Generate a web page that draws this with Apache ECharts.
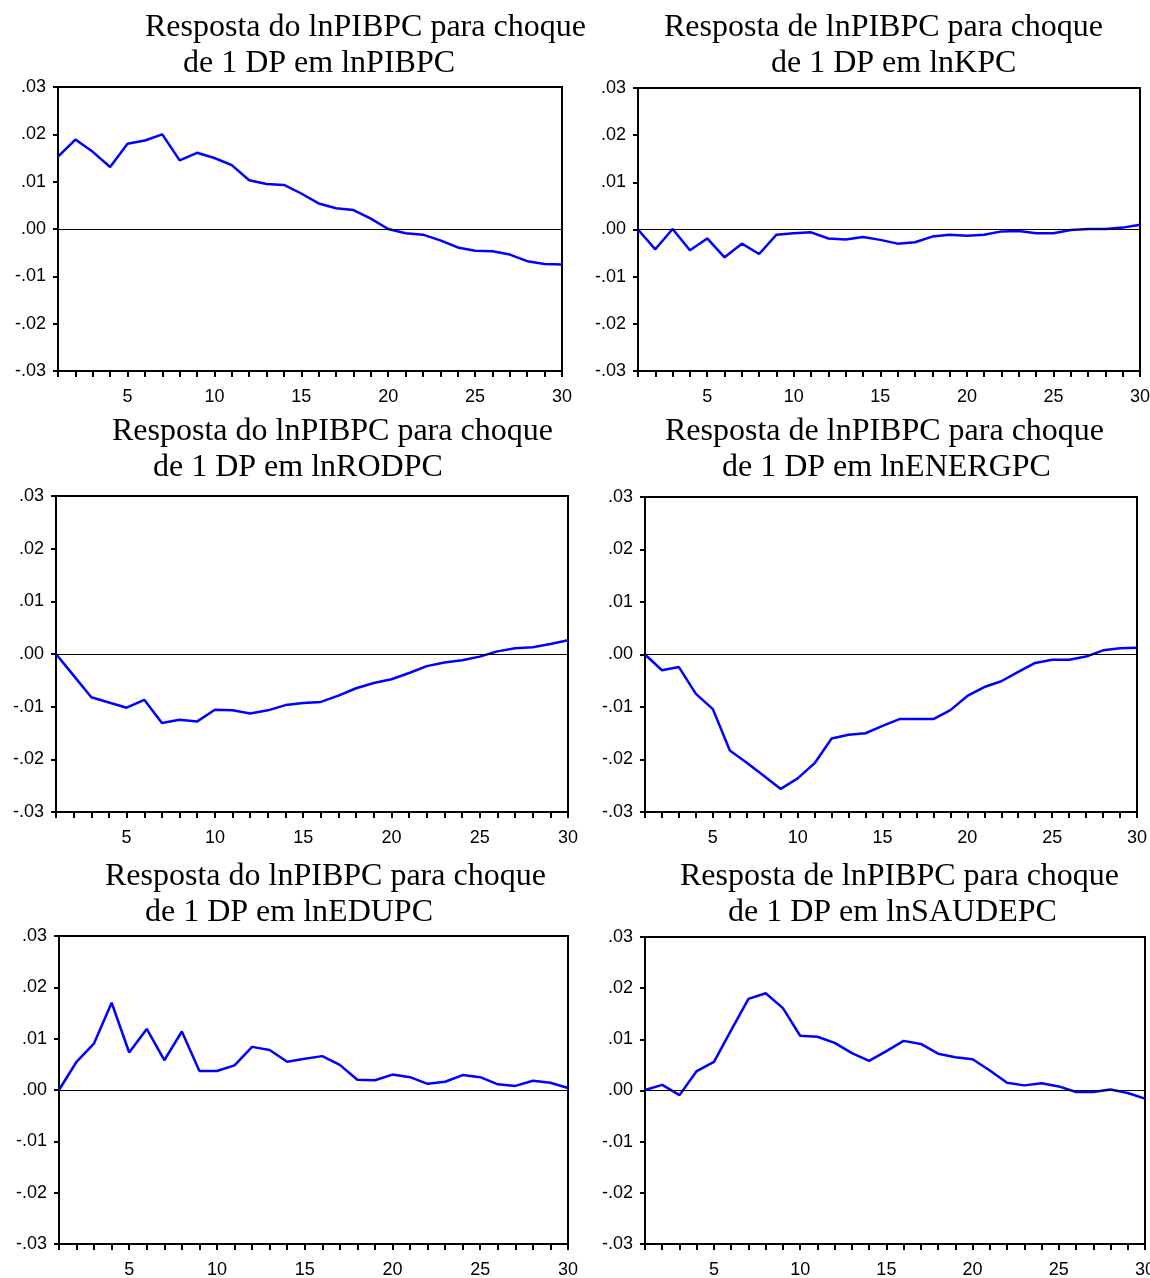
<!DOCTYPE html>
<html>
<head>
<meta charset="utf-8">
<script src="https://cdn.jsdelivr.net/npm/echarts@6/dist/echarts.min.js"></script>
<style>
html,body{margin:0;padding:0;background:#fff;}
#chart{width:1150px;height:1278px;}
</style>
</head>
<body>
<div id="chart"></div>
<script>
// ---- data ----
const periods = ['1','2','3','4','5','6','7','8','9','10','11','12','13','14','15','16','17','18','19','20','21','22','23','24','25','26','27','28','29','30'];
const xLabelShown = ['5','10','15','20','25','30'];
const yTickLabels = ['-.03','-.02','-.01','.00','.01','.02','.03'];

const respPIBPC   = [0.0153,0.0189,0.0163,0.0131,0.0180,0.0187,0.0200,0.0145,0.0161,0.0150,0.0135,0.0103,0.0095,0.0093,0.0075,0.0054,0.0044,0.0040,0.0022,0.0000,-0.0009,-0.0012,-0.0024,-0.0039,-0.0046,-0.0047,-0.0054,-0.0068,-0.0074,-0.0075];
const respKPC     = [0.0000,-0.0042,0.0001,-0.0044,-0.0019,-0.0059,-0.0030,-0.0052,-0.0011,-0.0008,-0.0006,-0.0019,-0.0021,-0.0016,-0.0022,-0.0030,-0.0027,-0.0015,-0.0011,-0.0013,-0.0011,-0.0004,-0.0003,-0.0008,-0.0008,-0.0001,0.0001,0.0001,0.0004,0.0010];
const respRODPC   = [0.0000,-0.0041,-0.0082,-0.0092,-0.0102,-0.0087,-0.0131,-0.0125,-0.0128,-0.0106,-0.0107,-0.0113,-0.0107,-0.0097,-0.0093,-0.0091,-0.0079,-0.0065,-0.0055,-0.0048,-0.0036,-0.0023,-0.0016,-0.0012,-0.0005,0.0005,0.0011,0.0013,0.0019,0.0026];
const respENERGPC = [0.0000,-0.0030,-0.0024,-0.0075,-0.0104,-0.0183,-0.0206,-0.0231,-0.0256,-0.0236,-0.0207,-0.0160,-0.0153,-0.0150,-0.0136,-0.0123,-0.0123,-0.0123,-0.0106,-0.0079,-0.0062,-0.0051,-0.0033,-0.0016,-0.0010,-0.0010,-0.0004,0.0008,0.0012,0.0013];
const respEDUPC   = [0.0000,0.0055,0.0091,0.0170,0.0073,0.0119,0.0058,0.0114,0.0037,0.0037,0.0048,0.0084,0.0078,0.0055,0.0061,0.0066,0.0049,0.0020,0.0019,0.0030,0.0025,0.0012,0.0016,0.0029,0.0025,0.0011,0.0008,0.0018,0.0014,0.0004];
const respSAUDEPC = [0.0001,0.0011,-0.0009,0.0038,0.0056,0.0118,0.0179,0.0190,0.0161,0.0107,0.0105,0.0093,0.0073,0.0058,0.0077,0.0097,0.0091,0.0072,0.0065,0.0061,0.0039,0.0015,0.0010,0.0014,0.0008,-0.0003,-0.0003,0.0002,-0.0005,-0.0016];

const titleLine1 = ['Resposta do lnPIBPC para choque','Resposta de lnPIBPC para choque','Resposta do lnPIBPC para choque','Resposta de lnPIBPC para choque','Resposta do lnPIBPC para choque','Resposta de lnPIBPC para choque'];
const titleLine2 = ['de 1 DP em lnPIBPC','de 1 DP em lnKPC','de 1 DP em lnRODPC','de 1 DP em lnENERGPC','de 1 DP em lnEDUPC','de 1 DP em lnSAUDEPC'];

const seriesData = [respPIBPC, respKPC, respRODPC, respENERGPC, respEDUPC, respSAUDEPC];

// ---- layout ----
const layout = [
  {left:58,  top:87,  width:504, height:284, t1x:145, t2x:183, b1:28,  b2:64},
  {left:638, top:88,  width:502, height:283, t1x:664, t2x:771, b1:28,  b2:64},
  {left:56,  top:496, width:512, height:316, t1x:112, t2x:153, b1:432, b2:468},
  {left:645, top:497, width:492, height:315, t1x:665, t2x:722, b1:432, b2:468},
  {left:59,  top:936, width:509, height:308, t1x:105, t2x:145, b1:877, b2:913},
  {left:645, top:937, width:500, height:307, t1x:680, t2x:728, b1:877, b2:913}
];

const grids = [], xAxes = [], yAxes = [], series = [], graphics = [];
const titleFont = '32px "Liberation Serif", "Times New Roman", serif';
const labelFont = '"Liberation Sans", Arial, sans-serif';

layout.forEach((p, i) => {
  grids.push({left:p.left, top:p.top, width:p.width, height:p.height, containLabel:false, outerBoundsMode:'none',
    show:true, borderColor:'#000', borderWidth:2, backgroundColor:'transparent'});
  xAxes.push({
    type:'category', gridIndex:i, data:periods, boundaryGap:false,
    axisLine:{show:true, onZero:false, lineStyle:{color:'#000', width:2}},
    axisTick:{show:true, interval:0, length:6, lineStyle:{color:'#000', width:2}},
    axisLabel:{interval:(idx, v) => xLabelShown.includes(v), color:'#000', fontSize:18, fontFamily:labelFont, margin:17},
    splitLine:{show:false}
  });
  yAxes.push({
    type:'value', gridIndex:i, min:-0.03, max:0.03, interval:0.01,
    axisLine:{show:true, onZero:false, lineStyle:{color:'#000', width:2}},
    axisTick:{show:true, length:5, lineStyle:{color:'#000', width:2}},
    axisLabel:{color:'#000', fontSize:18, fontFamily:labelFont, margin:12,
      formatter:(v) => yTickLabels[Math.round((v + 0.03) / 0.01)]},
    splitLine:{show:false}
  });
  series.push({
    type:'line', xAxisIndex:i, yAxisIndex:i, data:seriesData[i],
    symbol:'none', lineStyle:{color:'#0000FF', width:2.5}, itemStyle:{color:'#0000FF'},
    markLine:{silent:true, symbol:'none', label:{show:false}, lineStyle:{color:'#000', width:1, type:'solid'}, data:[{yAxis:0}]},
    z:3
  });
  graphics.push({type:'text', x:p.t1x, y:p.b1, style:{text:titleLine1[i], font:titleFont, fill:'#000', textAlign:'left', textVerticalAlign:'middle'}});
  graphics.push({type:'text', x:p.t2x, y:p.b2, style:{text:titleLine2[i], font:titleFont, fill:'#000', textAlign:'left', textVerticalAlign:'middle'}});
});

const chart = echarts.init(document.getElementById('chart'), null, {renderer:'canvas'});
chart.setOption({
  animation:false,
  backgroundColor:'#fff',
  grid:grids, xAxis:xAxes, yAxis:yAxes, series:series,
  graphic:graphics
});
</script>
</body>
</html>
